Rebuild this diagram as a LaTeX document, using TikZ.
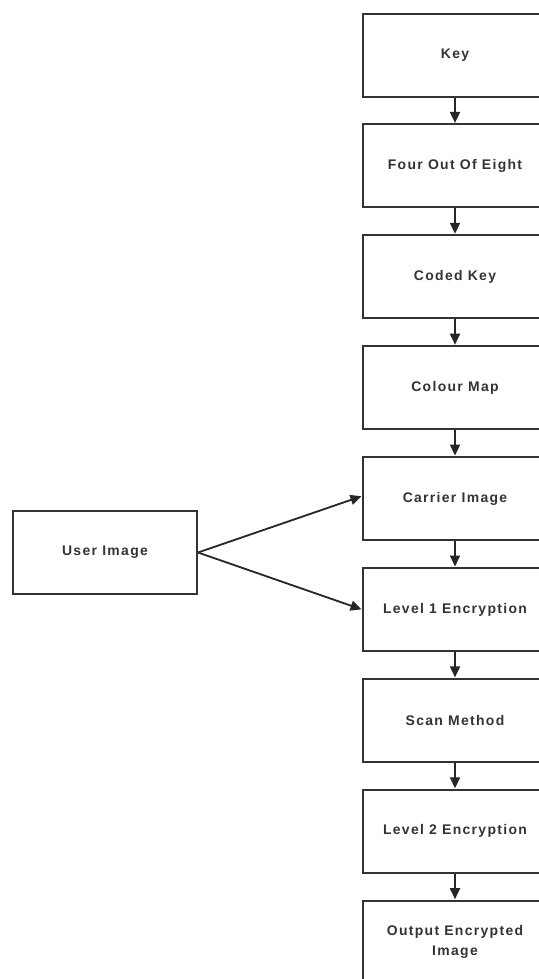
\documentclass[tikz,border=0pt]{standalone}
\usepackage{fontspec}
\setmainfont{Liberation Sans}[LetterSpace=9.5]
\usetikzlibrary{arrows.meta}

\tikzset{
  stage/.style={draw=black!80, line width=2bp, rectangle, fill=white,
    minimum width=184bp, minimum height=83bp, inner sep=2bp,
    font=\fontsize{14}{20}\selectfont\bfseries, text=black!80, align=center},
  flow/.style={draw=black!85, line width=1.8bp,
    -{Triangle[length=11bp,width=10bp]}, shorten >=0.5bp}
}

\begin{document}
\begin{tikzpicture}[x=1bp, y=-1bp]
  \useasboundingbox (0,0) rectangle (539,979);
  \fill[white] (0,0) rectangle (539,979);
  \clip (0,0) rectangle (539,979);

  % main processing chain
  \node[stage] (key)    at (455, 55.0)  {Key};
  \node[stage] (foe)    at (455,165.9)  {Four Out Of Eight};
  \node[stage] (coded)  at (455,276.8)  {Coded Key};
  \node[stage] (cmap)   at (455,387.7)  {Colour Map};
  \node[stage] (carrier)at (455,498.6)  {Carrier Image};
  \node[stage] (lvone)  at (455,609.5)  {Level 1 Encryption};
  \node[stage] (scan)   at (455,720.4)  {Scan Method};
  \node[stage] (lvtwo)  at (455,831.3)  {Level 2 Encryption};
  \node[stage] (out)    at (455,942.2)  {Output Encrypted\\Image};

  % input image
  \node[stage] (user)   at (105,552.5)  {User Image};

  \draw[flow] (key) -- (foe);
  \draw[flow] (foe) -- (coded);
  \draw[flow] (coded) -- (cmap);
  \draw[flow] (cmap) -- (carrier);
  \draw[flow] (carrier) -- (lvone);
  \draw[flow] (lvone) -- (scan);
  \draw[flow] (scan) -- (lvtwo);
  \draw[flow] (lvtwo) -- (out);

  \draw[flow] (user.east) -- ([yshift=2.5bp]carrier.west);
  \draw[flow] (user.east) -- (lvone.west);
\end{tikzpicture}
\end{document}
